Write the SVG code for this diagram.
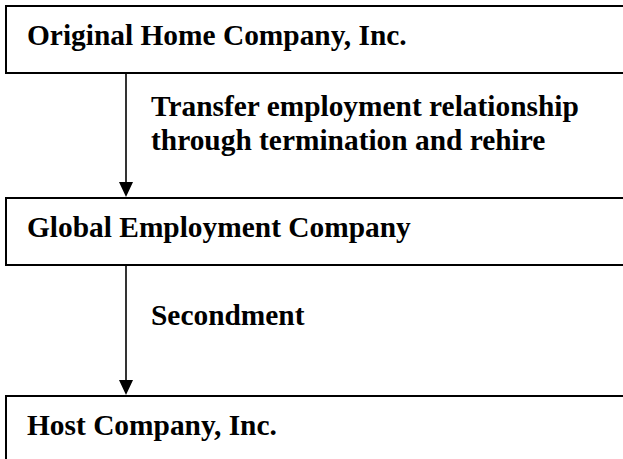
<svg xmlns="http://www.w3.org/2000/svg" width="623" height="459" viewBox="0 0 623 459">
<style>
.box{fill:#fff;stroke:#000;stroke-width:2}
.lbl{font-family:"Liberation Serif","Times New Roman",serif;font-weight:bold;font-size:29.4px;fill:#000}
.conn{stroke:#000;stroke-width:1.6;fill:none}
.head{fill:#000}
</style>
<rect width="623" height="459" fill="#fff"/>
<g id="node-original">
<rect class="box" x="6" y="6" width="640" height="67"/>
<text class="lbl" x="27" y="45">Original Home Company, Inc.</text>
</g>
<g id="node-global">
<rect class="box" x="6" y="198" width="640" height="67"/>
<text class="lbl" x="27" y="237">Global Employment Company</text>
</g>
<g id="node-host">
<rect class="box" x="6" y="396" width="640" height="80"/>
<text class="lbl" x="27" y="435">Host Company, Inc.</text>
</g>
<g id="connectors">
<line class="conn" x1="126" y1="73" x2="126" y2="184"/>
<polygon class="head" points="119,182 133,182 126,197"/>
<text class="lbl" x="151" y="116">Transfer employment relationship</text>
<text class="lbl" x="151" y="150">through termination and rehire</text>
<line class="conn" x1="126" y1="265" x2="126" y2="381"/>
<polygon class="head" points="119,380 133,380 126,395"/>
<text class="lbl" x="151" y="325">Secondment</text>
</g>
</svg>
